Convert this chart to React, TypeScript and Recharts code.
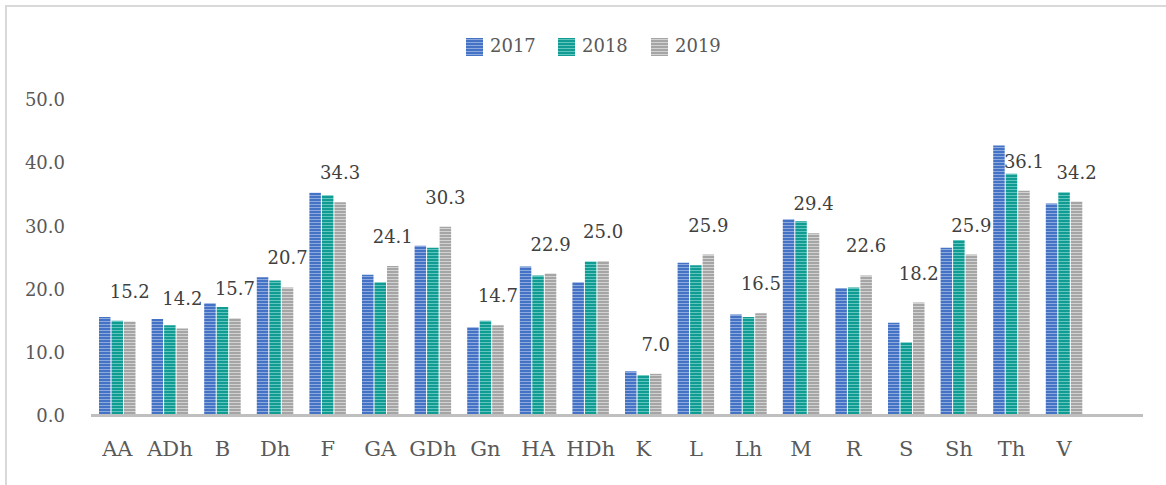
import React from 'react';
import { BarChart, Bar, XAxis, YAxis, LabelList } from 'recharts';

const categories = ['AA', 'ADh', 'B', 'Dh', 'F', 'GA', 'GDh', 'Gn', 'HA', 'HDh', 'K', 'L', 'Lh', 'M', 'R', 'S', 'Sh', 'Th', 'V'];
const values2017 = [15.6, 15.3, 17.8, 21.9, 35.3, 22.3, 26.9, 14.0, 23.6, 21.1, 7.0, 24.2, 16.0, 31.1, 20.2, 14.7, 26.6, 42.8, 33.6];
const values2018 = [15.0, 14.3, 17.2, 21.4, 34.9, 21.1, 26.6, 15.0, 22.2, 24.4, 6.4, 23.8, 15.6, 30.8, 20.3, 11.6, 27.8, 38.3, 35.4];
const values2019 = [14.9, 13.8, 15.4, 20.3, 33.8, 23.7, 29.9, 14.3, 22.5, 24.5, 6.6, 25.5, 16.2, 28.9, 22.2, 17.9, 25.5, 35.6, 33.9];
const labels2019 = ['15.2', '14.2', '15.7', '20.7', '34.3', '24.1', '30.3', '14.7', '22.9', '25.0', '7.0', '25.9', '16.5', '29.4', '22.6', '18.2', '25.9', '36.1', '34.2'];
const yTicks = [0, 10, 20, 30, 40, 50];

const seriesNames = ['2017', '2018', '2019'];
const seriesKeys = ['y2017', 'y2018', 'y2019'];
const seriesColors = [
  { dark: '#4472C4', light: '#8EA9DE' },
  { dark: '#109C92', light: '#63C6BE' },
  { dark: '#A5A5A5', light: '#D2D2D2' },
];

const data = [
  ...categories.map((c, i) => ({
    name: c,
    y2017: values2017[i],
    y2018: values2018[i],
    y2019: values2019[i],
  })),
  { name: '' },
];

const FONT = '"DejaVu Serif", serif';

const Patterns = ({ prefix }: { prefix: string }) => (
  <defs>
    {seriesColors.map((c, i) => (
      <pattern key={i} id={`${prefix}${i}`} width="4" height="3" patternUnits="userSpaceOnUse">
        <rect x="0" y="0" width="4" height="3" fill={c.dark} />
        <rect x="0" y="2" width="4" height="1" fill={c.light} />
      </pattern>
    ))}
  </defs>
);

const DataLabel = (props: any) => {
  const { x, y, width, index } = props;
  const txt = labels2019[index];
  if (txt === undefined || x === undefined) return null;
  return (
    <text
      x={Number(x) + Number(width) / 2}
      y={Number(y) - 23}
      textAnchor="middle"
      fontFamily={FONT}
      fontSize={18}
      fill="#404040"
    >
      {txt}
    </text>
  );
};

const legendX = [459, 551, 644];

export default function App() {
  return (
    <div
      style={{
        position: 'absolute',
        left: 5,
        top: 5,
        width: 1159,
        height: 478,
        borderTop: '2px solid #D9D9D9',
        borderLeft: '2px solid #D9D9D9',
        background: '#fff',
      }}
    >
      <svg
        width={1159}
        height={70}
        style={{ position: 'absolute', left: 0, top: 0 }}
      >
        <Patterns prefix="lg" />
        {seriesNames.map((n, i) => (
          <g key={n}>
            <rect x={legendX[i]} y={31} width={17} height={18} fill={`url(#lg${i})`} />
            <text x={legendX[i] + 24} y={44.5} fontFamily={FONT} fontSize={18} fill="#595959">
              {n}
            </text>
          </g>
        ))}
      </svg>
      <div style={{ position: 'absolute', left: 0, top: 0 }}>
        <BarChart
          width={1159}
          height={478}
          data={data}
          margin={{ top: 93, right: 23, left: 0, bottom: 29.5 }}
          barGap={1}
          barSize={11.5}
        >
          <Patterns prefix="bp" />
          <XAxis
            dataKey="name"
            height={40}
            tickLine={false}
            tickSize={0}
            tickMargin={26}
            axisLine={{ stroke: '#BFBFBF', strokeWidth: 3 }}
            interval={0}
            tick={{ fontFamily: FONT, fontSize: 21, fill: '#595959' }}
          />
          <YAxis
            width={84}
            domain={[0, 50]}
            ticks={yTicks}
            axisLine={false}
            tickLine={false}
            tickSize={0}
            tickMargin={26}
            tickFormatter={(v: number) => v.toFixed(1)}
            tick={{ fontFamily: FONT, fontSize: 18, fill: '#595959' }}
          />
          {seriesKeys.map((k, i) => (
            <Bar
              key={k}
              dataKey={k}
              name={seriesNames[i]}
              fill={`url(#bp${i})`}
              isAnimationActive={false}
            >
              {i === 2 ? <LabelList dataKey={k} content={<DataLabel />} /> : null}
            </Bar>
          ))}
        </BarChart>
      </div>
    </div>
  );
}
